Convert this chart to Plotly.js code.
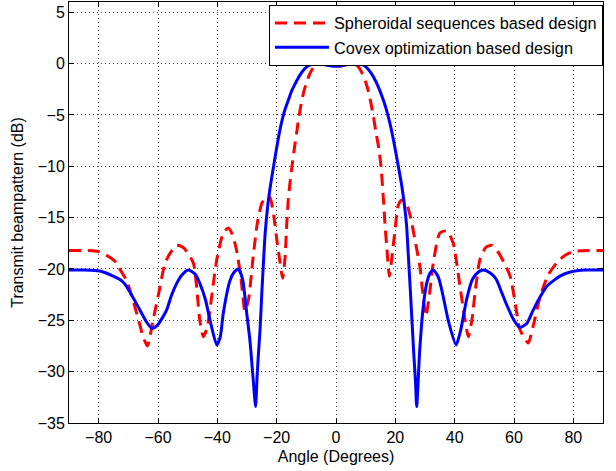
<!DOCTYPE html>
<html>
<head>
<meta charset="utf-8">
<script src="https://cdn.plot.ly/plotly-3.0.1.min.js"></script>
<style>html,body{margin:0;padding:0;background:#fff;}#chart{width:616px;height:471px;}</style>
</head>
<body>
<div id="chart"></div>
<script>
// Spheroidal sequences based design (red dashed)
const spheroidalAngle = [-90,-84,-80,-76,-74,-72.5,-70.6,-69,-67.2,-65,-63.6,-61.6,-59.3,-57.7,-56,-53.7,-51.5,-50.3,-48,-45.9,-44.7,-43.5,-42.5,-40.2,-38,-36.3,-35,-33.5,-32,-30.7,-29.5,-28,-26.5,-25,-23.5,-22.3,-21,-19.8,-18.9,-18,-17.2,-16.6,-16.1,-15.5,-14.9,-14,-13.2,-12.5,-11.8,-11,-10,-9,-8,-7,-6,-5,-3,0,3,5,6.4,7,8,9,10,11,11.8,12.6,13.4,14.4,15.2,16,16.5,17.1,18,18.8,19.9,21,22.1,23.5,25,26.5,28.3,29.3,30.3,31.5,32.8,35,37.5,39.5,41.8,43.5,44.6,45.8,47,48.5,50.5,52.5,54.5,56.5,58.7,60.5,62,64.8,66.5,68.8,71.5,74.4,77,80,86.8,90];
const spheroidalDB = [-18.2,-18.2,-18.3,-18.9,-19.4,-20.2,-21.1,-22.5,-24.3,-26.6,-27.5,-24.9,-21.7,-19.5,-18.5,-17.7,-17.9,-18.3,-19.5,-25.0,-26.6,-25.8,-24.0,-19.1,-16.5,-16.0,-16.6,-18.2,-21.0,-24.1,-23.0,-19.0,-15.5,-13.6,-13.0,-13.0,-14.8,-17.5,-19.3,-20.9,-19.0,-15.6,-13.3,-11.6,-10.1,-8.2,-6.6,-5.2,-4.0,-2.9,-1.9,-1.1,-0.55,-0.2,-0.02,0,-0.15,-0.3,-0.15,0,0,-0.15,-0.5,-1.05,-1.8,-2.8,-3.9,-5.1,-6.6,-8.2,-10.1,-13.3,-15.6,-17.8,-20.7,-19.0,-16.2,-13.8,-13.3,-13.5,-14.8,-17.0,-19.8,-22.5,-24.6,-22.5,-19.4,-16.5,-16.3,-17.5,-21.7,-25.0,-26.6,-25.0,-22.0,-19.1,-17.9,-17.7,-18.3,-19.3,-20.7,-23.5,-25.9,-27.2,-25.5,-22.7,-20.6,-19.4,-18.7,-18.3,-18.2,-18.2];

// Covex optimization based design (blue solid)
const convexAngle = [-90,-85,-79.6,-75.1,-72,-70.6,-68,-66.1,-64,-62,-60,-57.1,-55.5,-53.7,-52,-49.8,-47.5,-45.9,-44,-42.5,-40.2,-39,-38,-35.7,-34.3,-32.9,-31.5,-30.1,-29,-27.9,-27.1,-26.6,-26.2,-25.6,-25,-24.5,-23.9,-23,-22,-21.1,-20,-19,-18,-17,-16,-15,-14,-13,-12,-11,-10,-9,-8,-7,-6,-5,-4,-2,0,2,4,5,6,7,8,9,10,11,12,13,14,15,16,17,18,19,20,21,22,23,23.8,24.4,25,25.6,26.2,26.8,27.2,28.2,29.4,30.5,31.7,32.8,34.5,36,38,40.5,42,44,46,48,49.7,52,54,56,58,60,62,64.3,66,67.7,71,75.5,79,84,90];
const convexDB = [-20.1,-20.1,-20.2,-20.7,-21.2,-21.7,-23.0,-24.0,-25.1,-25.8,-25.4,-24.0,-22.6,-21.4,-20.6,-20.1,-20.5,-21.4,-23.0,-24.95,-27.4,-26.6,-24.3,-21.1,-20.3,-20.0,-21.0,-24.3,-27.0,-30.8,-33.4,-30.5,-28.5,-25.9,-22.3,-19.6,-16.6,-13.8,-11.7,-10.1,-8.2,-6.6,-5.3,-4.3,-3.5,-2.7,-2.1,-1.55,-1.05,-0.65,-0.35,-0.15,-0.03,0,0,-0.02,-0.08,-0.2,-0.25,-0.18,-0.06,-0.02,0,0,0,-0.1,-0.3,-0.6,-1.0,-1.5,-2.1,-2.8,-3.6,-4.5,-5.6,-6.9,-8.4,-10.0,-11.6,-13.6,-15.8,-18.8,-21.8,-25.0,-28.2,-31.0,-33.4,-28.0,-23.7,-21.5,-20.4,-20.1,-20.8,-22.5,-25.2,-27.4,-26.0,-23.0,-21.0,-20.3,-20.1,-20.4,-21.0,-22.4,-23.8,-25.0,-25.7,-25.3,-24.3,-23.3,-21.7,-20.7,-20.3,-20.1,-20.1];

const seriesNames = ['Spheroidal sequences based design', 'Covex optimization based design'];
const xTicks = [-80,-60,-40,-20,0,20,40,60,80];
const yTicks = [-35,-30,-25,-20,-15,-10,-5,0,5];

const traces = [
  {x: spheroidalAngle, y: spheroidalDB, name: seriesNames[0], type: 'scatter', mode: 'lines',
   line: {color: '#ff0000', width: 3, dash: '12px,7px', shape: 'spline', smoothing: 0.6}},
  {x: convexAngle, y: convexDB, name: seriesNames[1], type: 'scatter', mode: 'lines',
   line: {color: '#0000ff', width: 3, shape: 'spline', smoothing: 0.6}}
];

const font = {family: '"Liberation Sans", Arial, Helvetica, sans-serif', size: 16, color: '#000'};
const legendFont = {family: '"Liberation Sans", Arial, Helvetica, sans-serif', size: 16.3, color: '#000'};
const axisCommon = {
  showline: true, linecolor: '#000', linewidth: 1, mirror: 'ticks',
  ticks: 'inside', ticklen: 5, tickcolor: '#000', tickwidth: 1,
  showgrid: true, gridcolor: 'rgba(0,0,0,0.75)', gridwidth: 1, griddash: '1px,3px',
  zeroline: false, tickfont: font
};

const layout = {
  width: 616, height: 471,
  margin: {l: 69, r: 13, t: 2, b: 48, pad: 0},
  paper_bgcolor: '#fff', plot_bgcolor: '#fff',
  font: font,
  showlegend: true,
  legend: {x: 1, y: 0.993, xanchor: 'right', yanchor: 'top', bgcolor: '#fff',
           bordercolor: '#000', borderwidth: 1, font: legendFont, tracegroupgap: 0, itemwidth: 54},
  xaxis: Object.assign({}, axisCommon, {range: [-90, 90], tickvals: xTicks,
          title: {text: 'Angle (Degrees)', font: font, standoff: 5}}),
  yaxis: Object.assign({}, axisCommon, {range: [-35, 6], tickvals: yTicks,
          title: {text: 'Transmit beampattern (dB)', font: font, standoff: 10}})
};

Plotly.newPlot('chart', traces, layout, {displayModeBar: false, staticPlot: true});
</script>
</body>
</html>
